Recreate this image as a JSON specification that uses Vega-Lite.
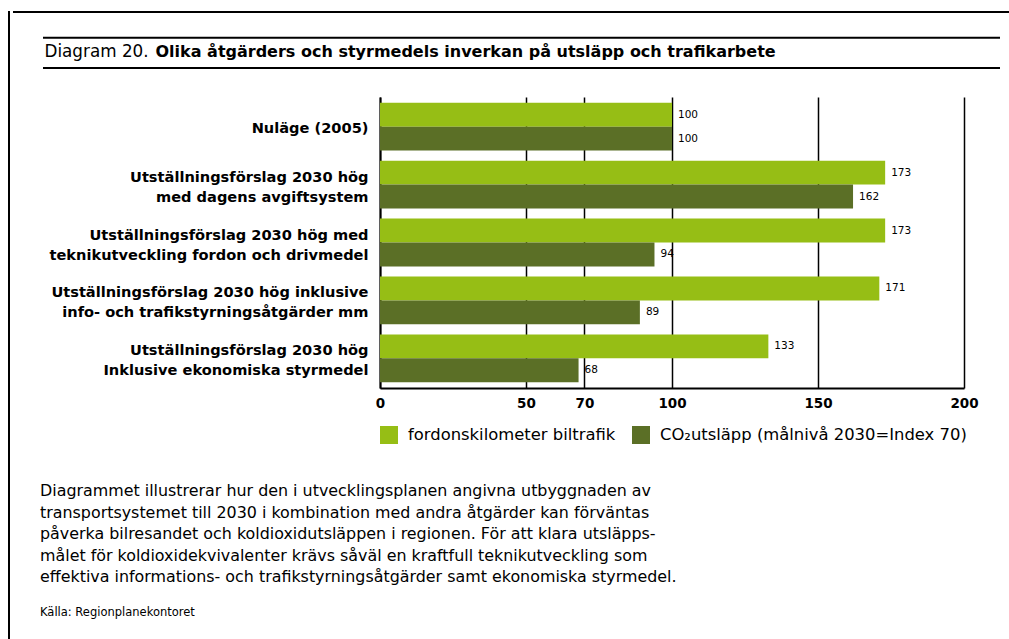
{
  "$schema": "https://vega.github.io/schema/vega-lite/v6.json",
  "padding": {"left": 7, "top": 10, "right": 0, "bottom": 0},
  "background": "white",
  "config": {"view": {"stroke": null}, "font": "DejaVu Sans"},
  "spacing": 0,
  "resolve": {"legend": {"color": "independent"}, "scale": {"color": "independent"}},
  "hconcat": [
    {
      "width": 0.001, "height": 700,
      "view": {"stroke": "black", "strokeWidth": 2},
      "data": {"values": [{}]},
      "mark": {"type": "rule", "opacity": 0},
      "encoding": {}
    },
    {
      "spacing": 0,
      "columns": 1,
      "resolve": {"legend": {"color": "independent"}, "scale": {"color": "independent"}},
      "concat": [
        {
          "width": 584, "height": 0.001,
          "data": {"values": [{}]},
          "mark": {"type": "rule", "color": "black", "strokeWidth": 2, "strokeCap": "square"},
          "encoding": {
            "x": {"datum": 0, "type": "quantitative", "scale": {"domain": [0, 1], "range": [-366, 640]}, "axis": null},
            "x2": {"datum": 1}
          }
        },
        {
          "width": 584, "height": 83,
          "layer": [
            {
              "data": {"values": [{"edge": "top"}, {"edge": "bottom"}]},
              "mark": {"type": "rule", "color": "black", "strokeWidth": 2},
              "encoding": {
                "x": {"datum": 0, "type": "quantitative", "scale": {"domain": [0, 1], "range": [-337, 620]}, "axis": null},
                "x2": {"datum": 1},
                "y": {"field": "edge", "type": "nominal", "scale": {"type": "point", "padding": 0, "domain": ["top", "bottom"], "range": [23.7, 54]}, "axis": null}
              }
            },
            {
              "data": {"values": [{"t": "Diagram 20."}]},
              "mark": {"type": "text", "align": "left", "baseline": "middle", "font": "DejaVu Sans", "fontSize": 16.8, "dx": 1.5, "dy": 14, "color": "black"},
              "encoding": {
                "x": {"datum": 0, "type": "quantitative"},
                "y": {"datum": "top", "type": "nominal"},
                "text": {"field": "t"}
              }
            },
            {
              "data": {"values": [{"t": "Olika åtgärders och styrmedels inverkan på utsläpp och trafikarbete"}]},
              "mark": {"type": "text", "align": "left", "baseline": "middle", "font": "DejaVu Sans", "fontSize": 16, "fontWeight": "bold", "dx": 112.5, "dy": 14, "color": "black"},
              "encoding": {
                "x": {"datum": 0, "type": "quantitative"},
                "y": {"datum": "top", "type": "nominal"},
                "text": {"field": "t"}
              }
            }
          ]
        },
        {
          "width": 584, "height": 291,
          "data": {"values": [
            {"cat": "Nuläge (2005)", "series": "fordonskilometer biltrafik", "value": 100},
            {"cat": "Nuläge (2005)", "series": "CO₂utsläpp (målnivå 2030=Index 70)", "value": 100},
            {"cat": "Utställningsförslag 2030 hög|med dagens avgiftsystem", "series": "fordonskilometer biltrafik", "value": 173},
            {"cat": "Utställningsförslag 2030 hög|med dagens avgiftsystem", "series": "CO₂utsläpp (målnivå 2030=Index 70)", "value": 162},
            {"cat": "Utställningsförslag 2030 hög med|teknikutveckling fordon och drivmedel", "series": "fordonskilometer biltrafik", "value": 173},
            {"cat": "Utställningsförslag 2030 hög med|teknikutveckling fordon och drivmedel", "series": "CO₂utsläpp (målnivå 2030=Index 70)", "value": 94},
            {"cat": "Utställningsförslag 2030 hög inklusive|info- och trafikstyrningsåtgärder mm", "series": "fordonskilometer biltrafik", "value": 171},
            {"cat": "Utställningsförslag 2030 hög inklusive|info- och trafikstyrningsåtgärder mm", "series": "CO₂utsläpp (målnivå 2030=Index 70)", "value": 89},
            {"cat": "Utställningsförslag 2030 hög|Inklusive ekonomiska styrmedel", "series": "fordonskilometer biltrafik", "value": 133},
            {"cat": "Utställningsförslag 2030 hög|Inklusive ekonomiska styrmedel", "series": "CO₂utsläpp (målnivå 2030=Index 70)", "value": 68}
          ]},
          "encoding": {
            "y": {
              "field": "cat", "type": "nominal", "sort": null,
              "scale": {"paddingInner": 0.174, "paddingOuter": 0.1},
              "axis": {
                "title": null, "labelExpr": "split(datum.label, '|')",
                "labelFont": "DejaVu Sans", "labelFontWeight": "bold", "labelFontSize": 14.6, "labelColor": "black",
                "labelPadding": 12, "labelLineHeight": 20, "labelLimit": 0,
                "labelOffset": {"condition": {"test": "indexof(datum.value, '|') >= 0", "value": -7}, "value": 2},
                "ticks": false, "domainColor": "black", "domainWidth": 2, "minExtent": 369, "grid": false
              }
            },
            "yOffset": {"field": "series", "type": "nominal", "sort": null, "scale": {"paddingInner": 0, "paddingOuter": 0}},
            "x": {
              "field": "value", "type": "quantitative",
              "scale": {"domain": [0, 200], "nice": false},
              "axis": {
                "title": null, "values": [0, 50, 70, 100, 150, 200],
                "grid": true, "gridColor": "black", "gridWidth": 1.5, "gridOpacity": 1,
                "ticks": false, "domainColor": "black", "domainWidth": 2,
                "labelFont": "DejaVu Sans", "labelFontWeight": "bold", "labelFontSize": 13.5, "labelColor": "black",
                "labelPadding": 8, "labelFlush": false
              }
            }
          },
          "layer": [
            {
              "mark": {"type": "bar"},
              "encoding": {
                "color": {
                  "field": "series", "type": "nominal",
                  "scale": {"domain": ["fordonskilometer biltrafik", "CO₂utsläpp (målnivå 2030=Index 70)"], "range": ["#96BE15", "#5B6F26"]},
                  "legend": {
                    "orient": "bottom", "direction": "horizontal", "title": null,
                    "symbolType": "square", "symbolSize": 324, "symbolStrokeWidth": 0, "symbolOpacity": 1,
                    "labelFontSize": 16.4, "labelFont": "DejaVu Sans", "labelColor": "black",
                    "columnPadding": 16, "labelOffset": 10, "offset": 16, "padding": 0, "labelLimit": 0
                  }
                }
              }
            },
            {
              "mark": {"type": "text", "align": "left", "baseline": "middle", "dx": 6, "font": "DejaVu Sans", "fontSize": 10.5, "color": "black"},
              "encoding": {"text": {"field": "value", "type": "quantitative"}}
            }
          ]
        },
        {
          "width": 584, "height": 180,
          "data": {"values": [
            {"n": "1", "kind": "body", "t": "Diagrammet illustrerar hur den i utvecklingsplanen angivna utbyggnaden av"},
            {"n": "2", "kind": "body", "t": "transportsystemet till 2030 i kombination med andra åtgärder kan förväntas"},
            {"n": "3", "kind": "body", "t": "påverka bilresandet och koldioxidutsläppen i regionen. För att klara utsläpps-"},
            {"n": "4", "kind": "body", "t": "målet för koldioxidekvivalenter krävs såväl en kraftfull teknikutveckling som"},
            {"n": "5", "kind": "body", "t": "effektiva informations- och trafikstyrningsåtgärder samt ekonomiska styrmedel."},
            {"n": "6", "kind": "source", "t": "Källa: Regionplanekontoret"}
          ]},
          "encoding": {
            "x": {"datum": 0, "type": "quantitative", "scale": {"domain": [0, 1], "range": [-340, 620]}, "axis": null},
            "y": {"field": "n", "type": "nominal", "scale": {"type": "point", "padding": 0, "domain": ["1", "2", "3", "4", "5", "gap", "6"], "range": [47, 176]}, "axis": null},
            "text": {"field": "t"}
          },
          "layer": [
            {
              "transform": [{"filter": "datum.kind === 'body'"}],
              "mark": {"type": "text", "align": "left", "baseline": "middle", "font": "DejaVu Sans", "fontSize": 15.9, "color": "black"}
            },
            {
              "transform": [{"filter": "datum.kind === 'source'"}],
              "mark": {"type": "text", "align": "left", "baseline": "middle", "font": "DejaVu Sans", "fontSize": 11.5, "dy": -7, "color": "black"}
            }
          ]
        }
      ]
    }
  ]
}
